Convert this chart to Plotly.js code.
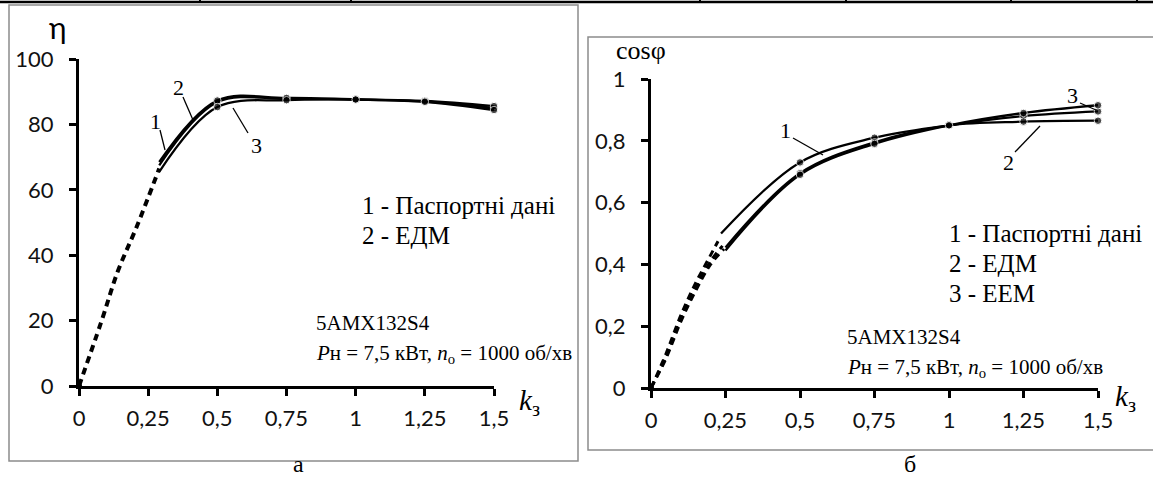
<!DOCTYPE html>
<html><head><meta charset="utf-8">
<script src="https://cdn.plot.ly/plotly-3.0.1.min.js"></script>
<style>html,body{margin:0;padding:0;background:#fff}#chart{width:1153px;height:479px}</style>
</head><body><div id="chart"></div>
<script>
// ---------- data ----------
const kTicks = [0, 0.25, 0.5, 0.75, 1, 1.25, 1.5];
const kTickText = ["0", "0,25", "0,5", "0,75", "1", "1,25", "1,5"];
const etaTicks = [0, 20, 40, 60, 80, 100];
const etaTickText = ["0", "20", "40", "60", "80", "100"];
const cosTicks = [0, 0.2, 0.4, 0.6, 0.8, 1];
const cosTickText = ["0", "0,2", "0,4", "0,6", "0,8", "1"];

// efficiency (a)
const kEta = [0.29, 0.5, 0.75, 1, 1.25, 1.5];
const eta1 = [67.5, 86.8, 87.8, 87.6, 87.0, 85.0];   // 1 - passport data
const eta2 = [68.5, 87.3, 88.1, 87.7, 87.2, 85.6];   // 2 - EDM
const eta3 = [65.5, 85.3, 87.4, 87.6, 86.9, 84.4];   // 3 - EEM
const kEtaDash = [0, 0.08, 0.14, 0.21, 0.29];
const etaDash = [0, 19.5, 35, 49, 66.5];

// power factor (б)
const kCos1 = [0.235, 0.5, 0.75, 1, 1.25, 1.5];
const kCos23 = [0.25, 0.5, 0.75, 1, 1.25, 1.5];
const cos1 = [0.50, 0.73, 0.81, 0.85, 0.88, 0.895];
const cos2 = [0.455, 0.695, 0.795, 0.85, 0.862, 0.865];
const cos3 = [0.445, 0.69, 0.79, 0.85, 0.89, 0.915];
const kCosDash1 = [0, 0.05, 0.1, 0.15, 0.2, 0.225];
const cosDash1 = [0, 0.11, 0.235, 0.34, 0.43, 0.475];
const kCosDash2 = [0, 0.05, 0.1, 0.15, 0.2, 0.24];
const cosDash2 = [0, 0.10, 0.225, 0.325, 0.41, 0.46];
const kCosDash3 = [0, 0.05, 0.1, 0.15, 0.2, 0.245];
const cosDash3 = [0, 0.095, 0.215, 0.315, 0.40, 0.45];

const legendA = ["1 - Паспортні дані", "2 - ЕДМ"];
const legendB = ["1 - Паспортні дані", "2 - ЕДМ", "3 - ЕЕМ"];
const motorName = "5АМХ132S4";
const motorData = "<i>P</i>н = 7,5 кВт, <i>n</i><sub>о</sub> = 1000 об/хв";

// ---------- helpers ----------
const W = 1153, H = 479;
const X = v => v / W, Y = v => 1 - v / H;
const sizes = arr => arr.map((_, i) => i === 0 ? 0 : 7.5);

function solid(x, y, xa, ya) {
  return {x, y, xaxis: xa, yaxis: ya, type: 'scatter', mode: 'lines+markers',
    line: {color: '#000', width: 2.3, shape: 'spline', smoothing: 1},
    marker: {color: '#000', size: sizes(x)}, cliponaxis: false, showlegend: false, hoverinfo: 'skip'};
}
function dashed(x, y, xa, ya, w) {
  return {x, y, xaxis: xa, yaxis: ya, type: 'scatter', mode: 'lines',
    line: {color: '#000', width: w, dash: '7px,5px', shape: 'spline', smoothing: 1},
    cliponaxis: false, showlegend: false, hoverinfo: 'skip'};
}
function origin(xa, ya) {
  return {x: [0], y: [0], xaxis: xa, yaxis: ya, type: 'scatter', mode: 'markers',
    marker: {color: '#000', size: 6}, cliponaxis: false, showlegend: false, hoverinfo: 'skip'};
}

const data = [
  dashed(kEtaDash, etaDash, 'x', 'y', 4),
  solid(kEta, eta1, 'x', 'y'),
  solid(kEta, eta2, 'x', 'y'),
  solid(kEta, eta3, 'x', 'y'),
  origin('x', 'y'),
  dashed(kCosDash1, cosDash1, 'x2', 'y2', 3),
  dashed(kCosDash2, cosDash2, 'x2', 'y2', 3),
  dashed(kCosDash3, cosDash3, 'x2', 'y2', 3),
  solid(kCos1, cos1, 'x2', 'y2'),
  solid(kCos23, cos2, 'x2', 'y2'),
  solid(kCos23, cos3, 'x2', 'y2'),
  origin('x2', 'y2')
];

const tickFont = {family: 'Lato, "Open Sans", sans-serif', size: 22, color: '#111'};
function axis(extra) {
  return Object.assign({showline: true, linewidth: 3, linecolor: '#000', ticks: 'outside',
    ticklen: 7, tickwidth: 3, tickcolor: '#000', showgrid: false, zeroline: false,
    tickfont: tickFont, fixedrange: true, tickmode: 'array'}, extra);
}

const serifF = size => ({family: '"Liberation Serif", "Times New Roman", serif', size, color: '#000'});
function txt(text, x, y, anchor, font) {
  return {text, x: X(x), y: Y(y), xref: 'paper', yref: 'paper', showarrow: false,
    xanchor: anchor || 'left', yanchor: 'middle', font: font || serifF(21)};
}
function seg(x0, y0, x1, y1, w, c) {
  return {type: 'line', xref: 'paper', yref: 'paper', x0: X(x0), y0: Y(y0), x1: X(x1), y1: Y(y1),
    line: {color: c || '#000', width: w || 1.3}};
}

const annotations = [
  txt('η', 58, 27, 'center', {family: 'Lato, sans-serif', size: 30, color: '#000'}),
  txt('cosφ', 641, 50, 'center', serifF(26)),
  txt('<i>k</i><sub>з</sub>', 529, 402, 'center', serifF(29)),
  txt('<i>k</i><sub>з</sub>', 1125, 398, 'center', serifF(29)),
  txt(legendA[0], 360, 205, 'left', serifF(25)),
  txt(legendA[1], 360, 235, 'left', serifF(25)),
  txt(motorName, 314, 323),
  txt(motorData, 314, 354),
  txt(legendB[0], 947, 233, 'left', serifF(25)),
  txt(legendB[1], 947, 263, 'left', serifF(25)),
  txt(legendB[2], 947, 293, 'left', serifF(25)),
  txt(motorName, 845, 337),
  txt(motorData, 845, 368),
  txt('1', 155, 122, 'center', serifF(22)),
  txt('2', 178, 88, 'center', serifF(22)),
  txt('3', 256, 145, 'center', serifF(22)),
  txt('1', 785, 130, 'center', serifF(22)),
  txt('2', 1008, 163, 'center', serifF(22)),
  txt('3', 1072, 96, 'center', serifF(22)),
  {text: 'а', x: X(298), y: 0, xref: 'paper', yref: 'paper', showarrow: false, xanchor: 'center', yanchor: 'bottom', font: serifF(24)},
  {text: 'б', x: X(910), y: 0, xref: 'paper', yref: 'paper', showarrow: false, xanchor: 'center', yanchor: 'bottom', font: serifF(24)}
];

const shapes = [
  // remnants of the table above
  seg(0, 2, 1153, 2, 2.5),
  ...[200, 351, 700, 846, 1011, 1137].map(v => seg(v, 0, v, 3, 2)),
  // chart frames
  {type: 'rect', xref: 'paper', yref: 'paper', x0: X(9), x1: X(578), y0: Y(461), y1: Y(5), line: {color: '#8c8c8c', width: 1.5}},
  {type: 'rect', xref: 'paper', yref: 'paper', x0: X(588), x1: X(1160), y0: Y(450), y1: Y(37), line: {color: '#8c8c8c', width: 1.5}},
  // curve label leaders
  seg(160, 130, 165, 150),
  seg(183, 97, 193, 120),
  seg(248, 133, 233, 108),
  seg(793, 138, 823, 155),
  seg(1015, 152, 1040, 126),
  seg(1080, 103, 1096, 110)
];

const layout = {
  width: W, height: H, margin: {l: 0, r: 0, t: 0, b: 0},
  paper_bgcolor: '#fff', plot_bgcolor: 'rgba(0,0,0,0)',
  xaxis: axis({domain: [X(79), X(494)], range: [0, 1.5], anchor: 'y', tickvals: kTicks, ticktext: kTickText, ticklabelstandoff: 4}),
  yaxis: axis({domain: [Y(386), Y(59)], range: [0, 100], anchor: 'x', tickvals: etaTicks, ticktext: etaTickText, ticklabelstandoff: 11}),
  xaxis2: axis({domain: [X(651), X(1098)], range: [0, 1.5], anchor: 'y2', tickvals: kTicks, ticktext: kTickText, ticklabelstandoff: 4}),
  yaxis2: axis({domain: [Y(388), Y(79)], range: [0, 1], anchor: 'x2', tickvals: cosTicks, ticktext: cosTickText, ticklabelstandoff: 11}),
  annotations, shapes, showlegend: false
};

Plotly.newPlot('chart', data, layout, {staticPlot: true, displayModeBar: false});
</script></body></html>
